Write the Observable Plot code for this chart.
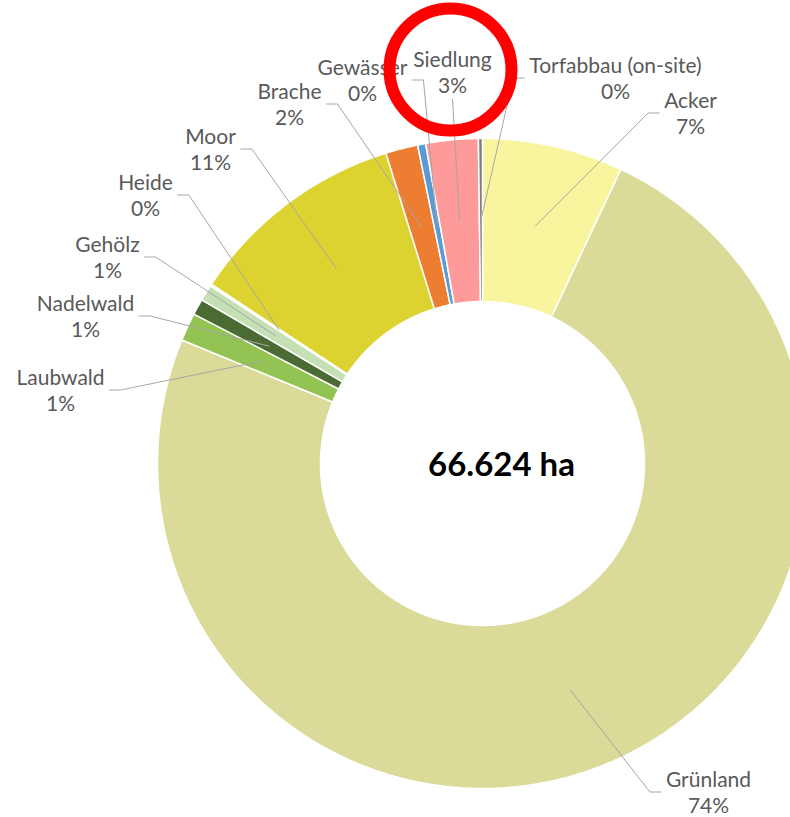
<!DOCTYPE html>
<html>
<head>
<meta charset="utf-8">
<script src="https://cdn.jsdelivr.net/npm/d3@7"></script>
<script src="https://cdn.jsdelivr.net/npm/@observablehq/plot@0.6"></script>
<style>
  html, body { margin: 0; padding: 0; background: #ffffff; }
  #chart { width: 790px; height: 817px; overflow: hidden; }
</style>
</head>
<body>
<div id="chart"></div>
<script>
// ---------------- data ----------------
const categories = ["Acker", "Grünland", "Laubwald", "Nadelwald", "Gehölz", "Heide", "Moor", "Brache", "Gewässer", "Siedlung", "Torfabbau (on-site)"];
const areaHa = [4664, 49435, 933, 533, 533, 67, 7262, 1066, 266, 1732, 133];
const colors = ["#f8f59e", "#dadb98", "#92c353", "#4a6b32", "#c5e0b4", "#eef3e8", "#dcd331", "#ed7d31", "#5b9bd5", "#ff9a9a", "#7f7f7f"];
const totalLabel = "66.624 ha";
const highlighted = "Siedlung";

// ---------------- layout (pixels) ----------------
const W = 790, H = 817;
const cx = 482, cy = 463, R = 325, R0 = 162;
// label block centre and side of leader line
const labelLayout = [
  {cat: "Acker", x: 690, y: 112.5, side: "right"},
  {cat: "Grünland", x: 708, y: 791.5, side: "right"},
  {cat: "Laubwald", x: 60, y: 389.5, side: "left"},
  {cat: "Nadelwald", x: 85, y: 315.5, side: "left"},
  {cat: "Gehölz", x: 107, y: 256.5, side: "left"},
  {cat: "Heide", x: 145, y: 194.5, side: "left"},
  {cat: "Moor", x: 210, y: 148.5, side: "left"},
  {cat: "Brache", x: 289, y: 103.5, side: "left"},
  {cat: "Gewässer", x: 362, y: 79.5, side: "left"},
  {cat: "Siedlung", x: 452, y: 71.5, side: "below"},
  {cat: "Torfabbau (on-site)", x: 615, y: 77.5, side: "right"}
];
const centerOffset = {dx: 19, dy: 2};
const fontFamily = "Lato, 'Open Sans', sans-serif";
const labelSize = 21, lineH = 26;

// ---------------- derived geometry ----------------
const total = d3.sum(areaHa);
const arcs = d3.pie().sort(null).value(d => d)(areaHa);
const pol = (r, a) => ({x: cx + r * Math.sin(a), y: cy - r * Math.cos(a)});

const slicePts = [];
arcs.forEach((p, i) => {
  const cat = categories[i];
  const n = Math.max(2, Math.ceil((p.endAngle - p.startAngle) / (Math.PI / 360)));
  const ring = [];
  for (let k = 0; k <= n; k++) ring.push(pol(R, p.startAngle + (p.endAngle - p.startAngle) * k / n));
  for (let k = n; k >= 0; k--) ring.push(pol(R0, p.startAngle + (p.endAngle - p.startAngle) * k / n));
  ring.push(ring[0]);
  ring.forEach(pt => slicePts.push({cat, x: pt.x, y: pt.y}));
});

const ctx = document.createElement("canvas").getContext("2d");
ctx.font = `${labelSize}px ${fontFamily}`;

const labels = categories.map((cat, i) => {
  const pct = Math.round(areaHa[i] / total * 100) + "%";
  const lay = labelLayout.find(l => l.cat === cat);
  const w = Math.max(ctx.measureText(cat).width, ctx.measureText(pct).width);
  return {cat, pct, text: cat + "\n" + pct, x: lay.x, y: lay.y, side: lay.side, w, arc: arcs[i]};
});

const leaderPts = [];
labels.forEach(l => {
  const mid = (l.arc.startAngle + l.arc.endAngle) / 2;
  const end = pol((R + R0) / 2, mid);
  let pts;
  if (l.side === "left") {
    const sx = l.x + l.w / 2 + 5;
    pts = [{x: sx, y: l.y}, {x: sx + 11, y: l.y}, end];
  } else if (l.side === "right") {
    const sx = l.x - l.w / 2 - 5;
    pts = [{x: sx, y: l.y}, {x: sx - 11, y: l.y}, end];
  } else {
    pts = [{x: l.x, y: l.y + lineH + 1}, end];
  }
  pts.forEach(p => leaderPts.push({cat: l.cat, x: p.x, y: p.y}));
});

const hl = labels.find(l => l.cat === highlighted);

// ---------------- plot ----------------
const chart = Plot.plot({
  width: W,
  height: H,
  margin: 0,
  style: {background: "#ffffff", overflow: "hidden"},
  x: {domain: [0, W], range: [0, W], axis: null},
  y: {domain: [0, H], range: [0, H], axis: null},
  color: {domain: categories, range: colors},
  marks: [
    Plot.line(slicePts, {x: "x", y: "y", z: "cat", fill: "cat", stroke: "#ffffff", strokeWidth: 1.5, curve: "linear"}),
    Plot.line(leaderPts, {x: "x", y: "y", z: "cat", stroke: "#a6a6a6", strokeWidth: 1}),
    Plot.text(labels, {x: "x", y: "y", text: "text", fill: "#595959", fontSize: labelSize, fontFamily, lineHeight: lineH / labelSize, lineAnchor: "middle", textAnchor: "middle"}),
    Plot.text([totalLabel], {x: () => cx + centerOffset.dx, y: () => cy + centerOffset.dy, text: d => d, fill: "#000000", fontSize: 33, fontWeight: "bold", fontFamily, textAnchor: "middle", lineAnchor: "middle"}),
    Plot.dot([hl], {x: d => d.x - 2, y: d => d.y - 2.5, r: 61, fill: "none", stroke: "#ff0000", strokeWidth: 12})
  ]
});
document.getElementById("chart").appendChild(chart);
</script>
</body>
</html>
